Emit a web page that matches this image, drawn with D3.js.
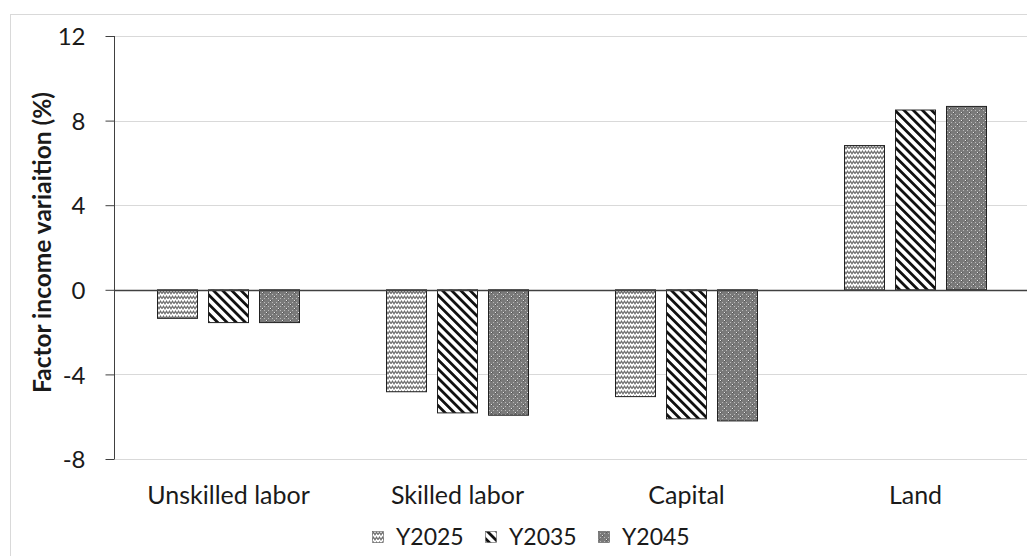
<!DOCTYPE html>
<html>
<head>
<meta charset="utf-8">
<script src="https://cdn.jsdelivr.net/npm/d3@7"></script>
<style>
  html, body { margin: 0; padding: 0; background: #fff; }
  svg { display: block; }
  text { font-family: Lato, "Open Sans", "Liberation Sans", sans-serif; fill: #1a1a1a; }
</style>
</head>
<body>
<svg id="chart" width="1027" height="556"></svg>
<script>
// Factor income variation by factor and simulation year
const categories = ["Unskilled labor", "Skilled labor", "Capital", "Land"];
const series = ["Y2025", "Y2035", "Y2045"];
const y2025 = [-1.35, -4.82, -5.05, 6.82];
const y2035 = [-1.55, -5.82, -6.10, 8.50];
const y2045 = [-1.55, -5.93, -6.20, 8.67];
const yTicks = [-8, -4, 0, 4, 8, 12];
const yTitle = "Factor income variaition (%)";

const valuesBySeries = { Y2025: y2025, Y2035: y2035, Y2045: y2045 };
const rows = categories.map((c, i) => ({
  category: c,
  bars: series.map(s => ({ series: s, value: valuesBySeries[s][i] }))
}));

const svg = d3.select("#chart");

// Fill patterns for each series
const defs = svg.append("defs");

// Y2025: gray zigzag on white
const pWave = defs.append("pattern").attr("id", "pat-Y2025")
  .attr("patternUnits", "userSpaceOnUse").attr("width", 6).attr("height", 5);
pWave.append("rect").attr("width", 6).attr("height", 5).attr("fill", "#fff");
pWave.append("path").attr("d", "M0,3.8 L1.5,1.2 L3,3.8 L4.5,1.2 L6,3.8")
  .attr("fill", "none").attr("stroke", "#6e6e6e").attr("stroke-width", 1.2);

// Y2035: black downward diagonal stripes on white
const pDiag = defs.append("pattern").attr("id", "pat-Y2035")
  .attr("patternUnits", "userSpaceOnUse").attr("width", 6.5).attr("height", 6.5)
  .attr("patternTransform", "rotate(-45)");
pDiag.append("rect").attr("width", 6.5).attr("height", 6.5).attr("fill", "#fff");
pDiag.append("rect").attr("x", 0).attr("y", 0).attr("width", 2.8).attr("height", 6.5).attr("fill", "#111");

// Y2045: dark gray with light dotted lattice
const pDots = defs.append("pattern").attr("id", "pat-Y2045")
  .attr("patternUnits", "userSpaceOnUse").attr("width", 8).attr("height", 8);
pDots.append("rect").attr("width", 8).attr("height", 8).attr("fill", "#7a7a7a");
[[0,0],[4,4],[2,2],[6,6],[2,6],[6,2]].forEach(([x, y], k) => {
  pDots.append("rect").attr("x", x).attr("y", y).attr("width", 1).attr("height", 1)
    .attr("fill", k < 2 ? "#e8e8e8" : "#b8b8b8");
});
[[1,0],[0,1],[5,4],[4,5]].forEach(([x, y]) => {
  pDots.append("rect").attr("x", x).attr("y", y).attr("width", 1).attr("height", 1)
    .attr("fill", "#5a5a5a");
});

// Outer chart frame
svg.append("rect").attr("x", 10.5).attr("y", 14.5).attr("width", 1030).attr("height", 560)
  .attr("fill", "none").attr("stroke", "#d9d9d9").attr("stroke-width", 1);

// Scales
const x = d3.scaleBand().domain(categories).range([114, 1030]).paddingInner(0).paddingOuter(0);
const groupWidth = 143;
const xi = d3.scaleBand().domain(series)
  .range([(x.bandwidth() - groupWidth) / 2, (x.bandwidth() + groupWidth) / 2])
  .paddingInner(10 / 51).paddingOuter(0);
const y = d3.scaleLinear().domain([-8, 12]).range([459, 36]);

// Horizontal gridlines
svg.append("g").selectAll("line").data(yTicks.filter(t => t !== 0)).join("line")
  .attr("x1", 114).attr("x2", 1027)
  .attr("y1", d => Math.round(y(d)) + 0.5).attr("y2", d => Math.round(y(d)) + 0.5)
  .attr("stroke", "#d9d9d9").attr("stroke-width", 1);

// Bars
const groups = svg.append("g").selectAll("g").data(rows).join("g")
  .attr("transform", d => `translate(${x(d.category)},0)`);
groups.selectAll("rect").data(d => d.bars).join("rect")
  .attr("x", d => xi(d.series) + 0.5)
  .attr("width", xi.bandwidth() - 1)
  .attr("y", d => Math.min(y(d.value), y(0)))
  .attr("height", d => Math.abs(y(d.value) - y(0)))
  .attr("fill", d => `url(#pat-${d.series})`)
  .attr("stroke", "#222").attr("stroke-width", 1);

// Zero baseline
svg.append("line").attr("x1", 114).attr("x2", 1027)
  .attr("y1", Math.round(y(0)) + 0.5).attr("y2", Math.round(y(0)) + 0.5)
  .attr("stroke", "#404040").attr("stroke-width", 1.3);

// Y axis
const yAxis = svg.append("g").attr("transform", "translate(114.5,0)")
  .call(d3.axisLeft(y).tickValues(yTicks).tickSize(9).tickPadding(20).tickFormat(d => String(d)));
yAxis.select(".domain").attr("stroke", "#404040").attr("d", `M-0,${y(12)}V${y(-8)}`);
yAxis.selectAll(".tick line").attr("stroke", "#404040");
yAxis.selectAll(".tick text")
  .style("font-size", "24px").style("font-family", "Lato, sans-serif").attr("fill", "#1a1a1a")
  .attr("text-anchor", "end").attr("dy", "0.36em");

// Category labels
svg.append("g").selectAll("text").data(categories).join("text")
  .attr("x", d => x(d) + x.bandwidth() / 2)
  .attr("y", 504)
  .attr("text-anchor", "middle")
  .style("font-size", "25px")
  .text(d => d);

// Y axis title
svg.append("text")
  .attr("transform", `translate(51,${(y(12) + y(-8)) / 2 - 5}) rotate(-90)`)
  .attr("text-anchor", "middle")
  .style("font-size", "24.5px").style("font-weight", "bold")
  .text(yTitle);

// Legend
const legendX = [372, 485, 598];
const legend = svg.append("g").selectAll("g").data(series).join("g")
  .attr("transform", (d, i) => `translate(${legendX[i]},531)`);
legend.append("rect").attr("x", 0.5).attr("y", 0.5).attr("width", 11).attr("height", 11)
  .attr("fill", d => `url(#pat-${d})`).attr("stroke", "#555").attr("stroke-width", 0.6);
legend.append("text").attr("x", 24).attr("y", 6).attr("dy", "0.36em")
  .style("font-size", "23px").text(d => d);
</script>
</body>
</html>
